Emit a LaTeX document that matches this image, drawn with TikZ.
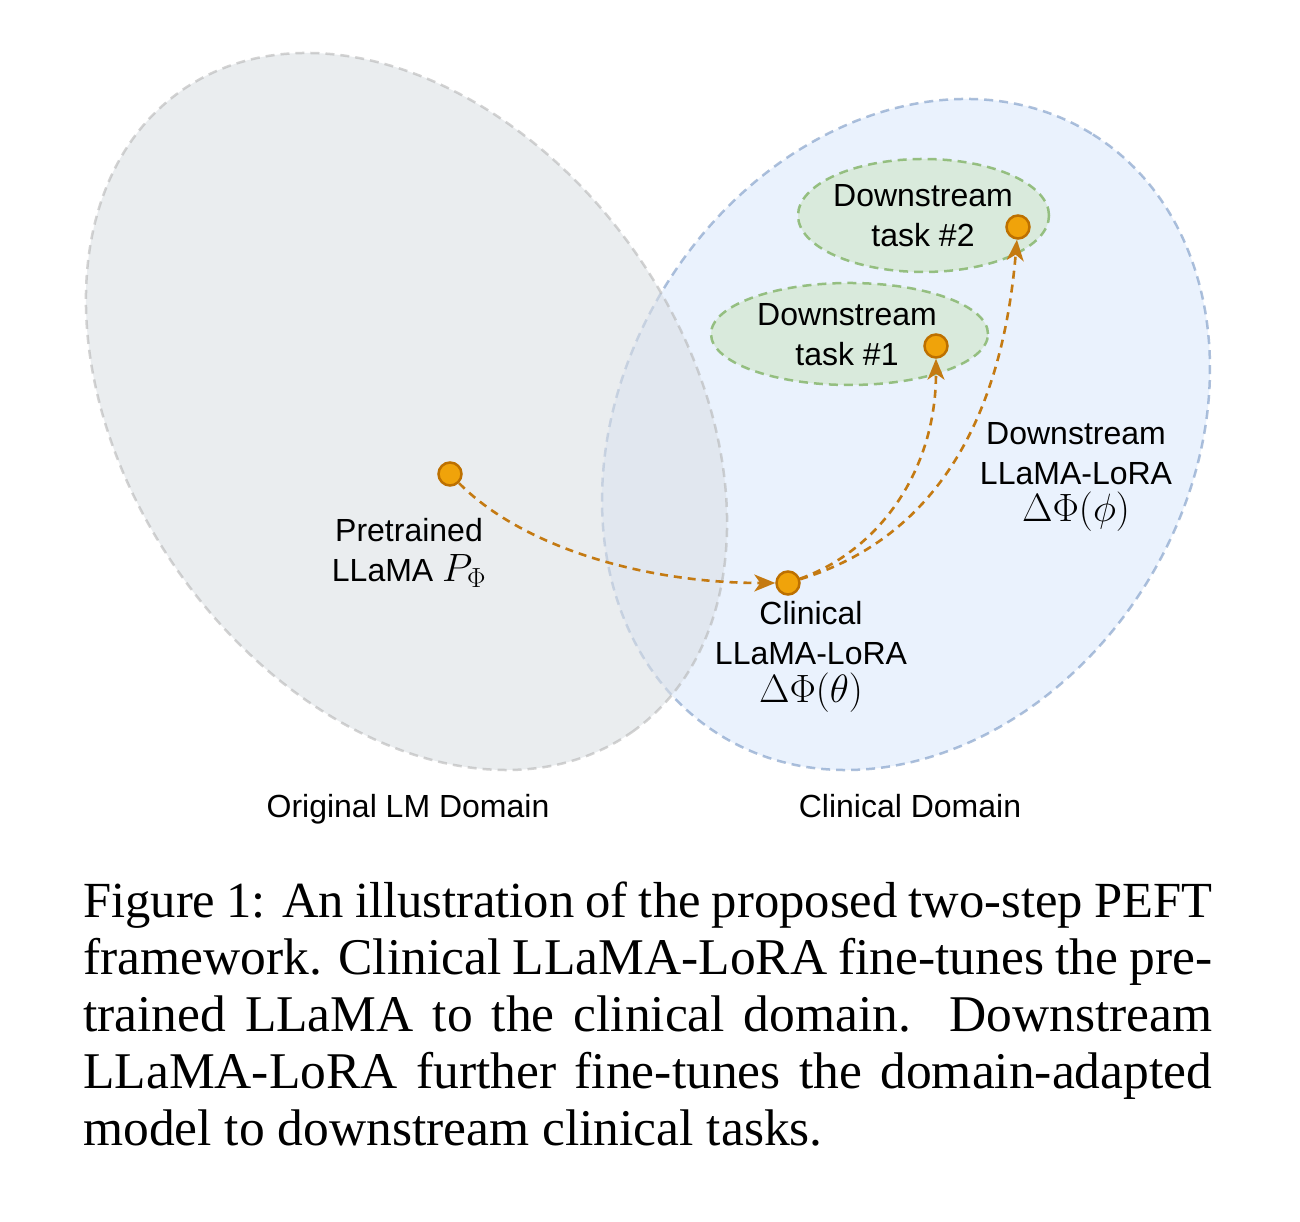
\documentclass[tikz,border=0pt]{standalone}
\usepackage{fix-cm}
\usepackage[no-math]{fontspec}
\newfontfamily\sansfont{Liberation Sans}
\newfontfamily\seriffont{Liberation Serif}
\usetikzlibrary{arrows.meta,shapes.geometric}
\definecolor{dotfill}{HTML}{F0A30A}
\definecolor{dotline}{HTML}{BD7000}
\definecolor{arrowc}{HTML}{C47A12}
\definecolor{grayfill}{HTML}{DCE0E5}
\definecolor{grayline}{HTML}{B4B4B4}
\definecolor{bluefill}{HTML}{DAE8FC}
\definecolor{blueline}{HTML}{6C8EBF}
\definecolor{greenfill}{HTML}{D5E8D4}
\definecolor{greenline}{HTML}{82B366}
\newcommand{\bigmath}[1]{{\fontsize{39.5}{40}\selectfont$#1$}}
\begin{document}
\begin{tikzpicture}[x=1pt,y=1pt,
  domainarea/.style={ellipse, inner sep=0pt, line width=2.5pt, dash pattern=on 9pt off 6pt},
  taskarea/.style={ellipse, inner sep=0pt, draw=greenline, fill=greenfill, line width=2.5pt,
                   dash pattern=on 9pt off 6pt, opacity=0.8},
  dotnode/.style={circle, inner sep=0pt, minimum size=23pt, fill=dotfill, draw=dotline, line width=2.5pt},
  flowline/.style={draw=arrowc, line width=2.6pt, dash pattern=on 8pt off 6pt,
               -{Stealth[length=21pt, width=17pt, inset=6pt]}},
  lbltext/.style={font=\sansfont\fontsize{32}{40}\selectfont, align=center, inner sep=0pt},
  captxt/.style={font=\seriffont\fontsize{51.5}{57}\selectfont, anchor=base west, inner sep=0pt}
]
\fill[white] (0,0) rectangle (1300,1222);
\useasboundingbox (0,0) rectangle (1300,1222);

% domains
\node[domainarea, draw=blueline, fill=bluefill, opacity=0.55,
      minimum width=707pt, minimum height=565.6pt, rotate=58.3] (clinarea) at (906,787.5) {};
\node[domainarea, draw=grayline, fill=grayfill, opacity=0.58,
      minimum width=783.8pt, minimum height=557.4pt, rotate=-54.9] (origarea) at (406.5,810.5) {};

% task areas
\node[taskarea, minimum width=251pt, minimum height=113pt] (task2area) at (923.5,1006.5) {};
\node[taskarea, minimum width=277pt, minimum height=102pt] (task1area) at (849.5,888) {};

% dots
\node[dotnode] (pre) at (450,748) {};
\node[dotnode] (clin) at (788,639) {};
\node[dotnode] (t1) at (936,876) {};
\node[dotnode] (t2) at (1018,995) {};

% connectors
\draw[flowline] (pre) .. controls (520,677) and (640,639) .. (clin);
\draw[flowline] (clin) .. controls (880,672) and (936,752) .. (t1);
\draw[flowline] (clin) .. controls (960,692) and (1005,842) .. (t2);

% labels
\node[lbltext, anchor=north] (prelbl) at (409,703.9)
  {Pretrained\\LLaMA \bigmath{P_{\Phi}}};
\node[lbltext, anchor=north] (clinlbl) at (811,620.9)
  {Clinical\\LLaMA-LoRA\\[-2pt]\bigmath{\Delta\Phi(\theta)}};
\node[lbltext, anchor=north] (downlbl) at (1076,799.9)
  {Downstream\\LLaMA-LoRA\\[-3pt]\bigmath{\Delta\Phi(\phi)}};
\node[lbltext, anchor=north] (t2lbl) at (923,1037.9) {Downstream\\task \#2};
\node[lbltext, anchor=north] (t1lbl) at (847,918.9) {Downstream\\task \#1};

\node[lbltext, anchor=base] (origname) at (408,404) {Original LM Domain};
\node[lbltext, anchor=base] (clinname) at (910,404) {Clinical Domain};

% caption
\node[captxt, font=\seriffont\fontsize{50.6}{57}\selectfont] (cap1) at (83,304) {\hbox to 1129pt{Figure 1: An illustration of the proposed two-step PEFT}};
\node[captxt] (cap2) at (83,247) {\hbox to 1129pt{framework. Clinical LLaMA-LoRA fine-tunes the pre-}};
\node[captxt] (cap3) at (83,190) {\hbox to 1129pt{trained LLaMA to the clinical domain.\ \ Downstream}};
\node[captxt] (cap4) at (83,133) {\hbox to 1129pt{LLaMA-LoRA further fine-tunes the domain-adapted}};
\node[captxt] (cap5) at (83,76) {model to downstream clinical tasks.};
\end{tikzpicture}
\end{document}
